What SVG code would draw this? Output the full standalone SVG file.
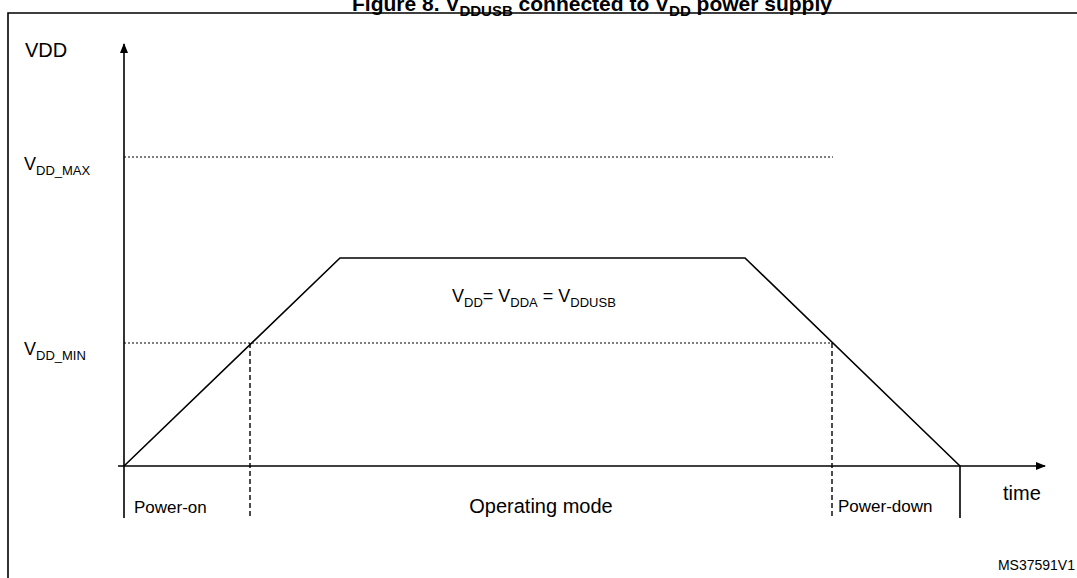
<svg xmlns="http://www.w3.org/2000/svg" width="1077" height="578" viewBox="0 0 1077 578">
<style>
text{font-family:"Liberation Sans",Arial,sans-serif;fill:#000}
.s{stroke:#000;stroke-width:1.6;fill:none}
.dot{stroke:#000;stroke-width:1.2;stroke-dasharray:2 2;fill:none}
.dash{stroke:#000;stroke-width:1.4;stroke-dasharray:5 3;fill:none}
</style>
<defs><marker id="a" markerWidth="10" markerHeight="8" refX="9" refY="4" orient="auto" markerUnits="userSpaceOnUse"><path d="M0,0L10,4L0,8z" fill="#000"/></marker></defs>
<text x="592" y="11" font-size="21" font-weight="bold" text-anchor="middle">Figure 8. V<tspan font-size="15" dy="5">DDUSB</tspan><tspan dy="-5"> connected to V</tspan><tspan font-size="15" dy="5">DD</tspan><tspan dy="-5"> power supply</tspan></text>
<path class="s" d="M8,578V13H1077" stroke-width="2"/>
<g id="connectors">
<path class="s" d="M124,518V44" marker-end="url(#a)"/>
<path class="s" d="M118,466H1045" marker-end="url(#a)"/>
<path class="dot" d="M124,157H833M124,343H833"/>
<path class="s" d="M124,466L340,258H745L960,466V518"/>
<path class="dash" d="M250,343V518M832,343V518"/>
</g>
<g id="labels" font-size="18">
<text x="25" y="57" font-size="20">VDD</text>
<text x="24" y="170" font-size="18">V<tspan font-size="13" dy="5">DD_MAX</tspan></text>
<text x="24" y="355" font-size="18">V<tspan font-size="13" dy="5">DD_MIN</tspan></text>
<text x="452" y="302" font-size="18">V<tspan font-size="13" dy="5">DD</tspan><tspan dy="-5">= V</tspan><tspan font-size="13" dy="5">DDA</tspan><tspan dy="-5"> = V</tspan><tspan font-size="13" dy="5">DDUSB</tspan></text>
<text x="134" y="513" font-size="17">Power-on</text>
<text x="541" y="513" font-size="20" text-anchor="middle">Operating mode</text>
<text x="838" y="512" font-size="17">Power-down</text>
<text x="1003" y="500" font-size="20">time</text>
<text x="1075" y="570" font-size="14" text-anchor="end">MS37591V1</text>
</g>
</svg>
